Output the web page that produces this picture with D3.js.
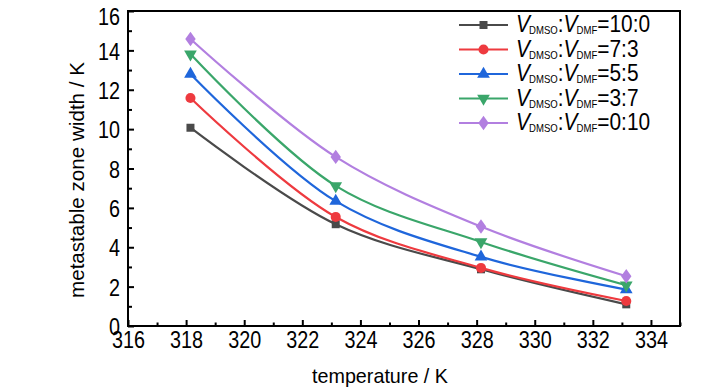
<!DOCTYPE html>
<html><head><meta charset="utf-8">
<script src="https://cdn.jsdelivr.net/npm/d3@7"></script>
<style>body{margin:0;background:#fff}svg{display:block}text{font-family:"Liberation Sans",Arial,sans-serif}</style>
</head><body><svg id="c" width="728" height="390"></svg>
<script>
const temperatures = [318.15, 323.15, 328.15, 333.15];
const ratioLabels = ["10:0", "7:3", "5:5", "3:7", "0:10"];
const mzw_10_0 = [10.07, 5.17, 2.88, 1.10];
const mzw_7_3 = [11.58, 5.54, 2.95, 1.27];
const mzw_5_5 = [12.80, 6.34, 3.51, 1.85];
const mzw_3_7 = [13.81, 7.12, 4.27, 2.07];
const mzw_0_10 = [14.58, 8.59, 5.05, 2.53];
const xTicks = [316, 318, 320, 322, 324, 326, 328, 330, 332, 334];
const yTicks = [0, 2, 4, 6, 8, 10, 12, 14, 16];

const seriesValues = [mzw_10_0, mzw_7_3, mzw_5_5, mzw_3_7, mzw_0_10];
const colors = ["#4a4a4a", "#ee3a3f", "#1f66db", "#3aa66a", "#b27fe0"];
const symbols = [d3.symbolSquare, d3.symbolCircle, d3.symbolTriangle, "down", d3.symbolDiamond];

const svg = d3.select("#c");
const L = 128, R = 680, T = 11, B = 326;
const x = d3.scaleLinear().domain([316, 335]).range([L, R]);
const y = d3.scaleLinear().domain([0, 16]).range([B, T]);

function marker(g, sym, color, cx, cy) {
  let s;
  if (sym === "down") {
    s = g.append("path").attr("d", d3.symbol(d3.symbolTriangle, 70)()).attr("transform", `translate(${cx},${cy}) rotate(180)`);
  } else {
    const size = sym === d3.symbolSquare ? 64 : sym === d3.symbolCircle ? 80 : sym === d3.symbolDiamond ? 60 : 70;
    s = g.append("path").attr("d", d3.symbol(sym, size)()).attr("transform", `translate(${cx},${cy})` + (sym === d3.symbolDiamond ? " scale(1.25,1)" : ""));
  }
  s.attr("fill", color);
}

// lines
const line = d3.line().x((d, i) => x(temperatures[i])).y(d => y(d)).curve(d3.curveCatmullRom.alpha(0.5));
seriesValues.forEach((vals, k) => {
  svg.append("path").attr("d", line(vals)).attr("fill", "none").attr("stroke", colors[k]).attr("stroke-width", 2.2);
});
seriesValues.forEach((vals, k) => {
  const g = svg.append("g");
  vals.forEach((v, i) => marker(g, symbols[k], colors[k], x(temperatures[i]), y(v)));
});

// axes
const xAx = svg.append("g").attr("transform", `translate(0,${B})`)
  .call(d3.axisBottom(x).tickValues(xTicks).tickSize(-6).tickPadding(5).tickFormat(d3.format("d")));
const yAx = svg.append("g").attr("transform", `translate(${L},0)`)
  .call(d3.axisLeft(y).tickValues(yTicks).tickSize(-6).tickPadding(8).tickFormat(d3.format("d")));
const xMinor = svg.append("g").attr("transform", `translate(0,${B})`)
  .call(d3.axisBottom(x).tickValues(xTicks.map(t => t + 1)).tickSize(-3.5).tickFormat(""));
const yMinor = svg.append("g").attr("transform", `translate(${L},0)`)
  .call(d3.axisLeft(y).tickValues(yTicks.slice(0, -1).map(t => t + 1)).tickSize(-4).tickFormat(""));
[xAx, yAx, xMinor, yMinor].forEach(a => {
  a.select(".domain").remove();
  a.selectAll("line").attr("stroke", "#000").attr("stroke-width", 2);
});
[xAx, yAx].forEach(a => a.selectAll("text").attr("font-size", 24).attr("fill", "#000")
  .attr("font-family", '"Liberation Sans",Arial,sans-serif')
  .attr("lengthAdjust", "spacingAndGlyphs")
  .attr("textLength", d => 11 * String(d).length));
xAx.selectAll("text").attr("dy", "0.71em");
yAx.selectAll("text").attr("dy", d => d === 16 ? "0.55em" : "0.36em");

svg.append("rect").attr("x", L).attr("y", T).attr("width", R - L).attr("height", B - T)
  .attr("fill", "none").attr("stroke", "#000").attr("stroke-width", 2);

// axis titles
svg.append("text").attr("x", 380).attr("y", 383).attr("text-anchor", "middle").attr("font-size", 21)
  .attr("textLength", 136).attr("lengthAdjust", "spacingAndGlyphs").text("temperature / K");
svg.append("text").attr("transform", "translate(84,180) rotate(-90)").attr("text-anchor", "middle").attr("font-size", 21)
  .attr("textLength", 236).attr("lengthAdjust", "spacingAndGlyphs").text("metastable zone width / K");

// legend
const lg = svg.append("g");
ratioLabels.forEach((lab, k) => {
  const cy = 25 + k * 24.5;
  lg.append("line").attr("x1", 459).attr("x2", 508).attr("y1", cy).attr("y2", cy).attr("stroke", colors[k]).attr("stroke-width", 2.2);
  marker(lg, symbols[k], colors[k], 483.5, cy);
  const t = lg.append("text").attr("transform", `translate(516,${cy + 7}) scale(0.87,1)`).attr("font-size", 24).attr("fill", "#000");
  t.append("tspan").attr("font-style", "italic").text("V");
  t.append("tspan").attr("font-size", 11).attr("dx", -1).attr("dy", 2).text("DMSO");
  t.append("tspan").attr("dy", -2).text(":");
  t.append("tspan").attr("font-style", "italic").text("V");
  t.append("tspan").attr("font-size", 11).attr("dx", -1).attr("dy", 2).text("DMF");
  t.append("tspan").attr("dy", -2).text("=" + lab);
});
</script></body></html>
